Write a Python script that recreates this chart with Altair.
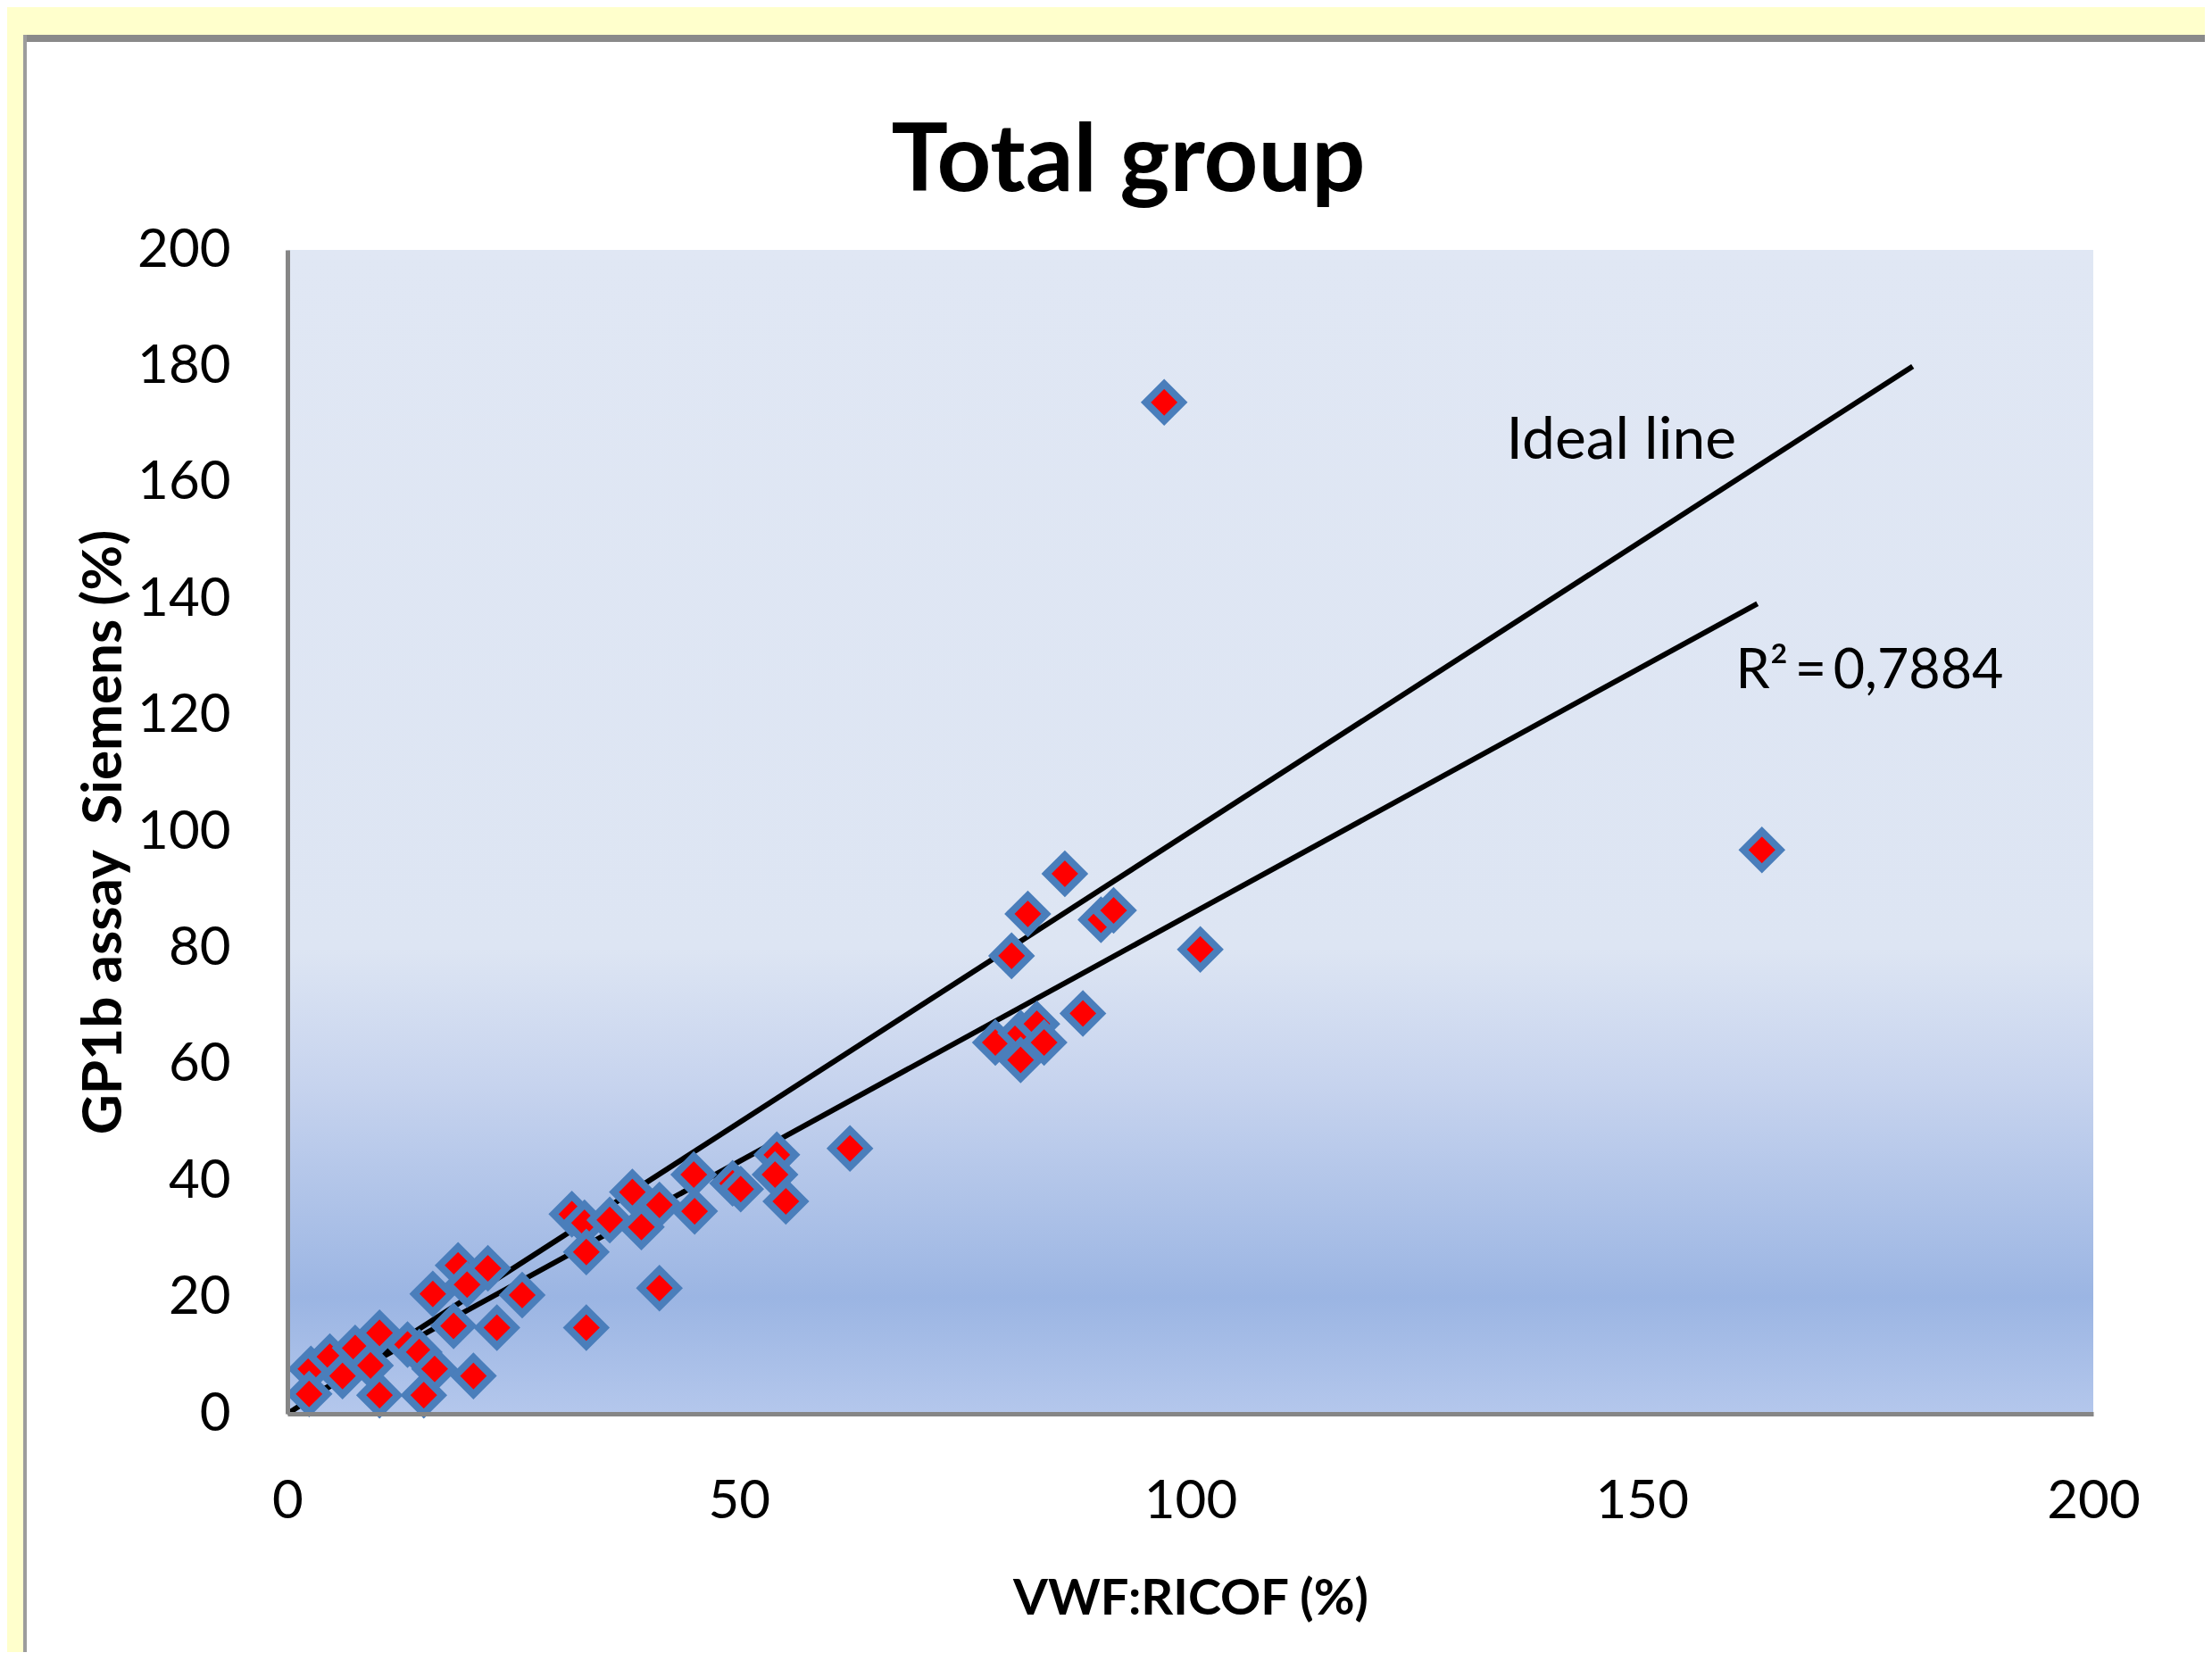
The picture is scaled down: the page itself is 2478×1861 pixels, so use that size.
import altair as alt
import pandas as pd

# ---- data ----
vwf = [2.6, 2.4, 4.7, 6.1, 7.5, 9.2, 10.2, 10.2, 13.3, 14.6, 16.3, 15.1, 20.6,
       16.1, 18.9, 19.9, 22.2, 18.4, 23.2, 26.0, 33.1, 31.5, 32.9, 33.1, 35.7,
       38.2, 39.2, 41.2, 41.2, 45.0, 45.1, 49.3, 50.2, 54.2, 54.0, 55.2, 62.3,
       78.4, 81.2, 83.0, 83.8, 81.2, 80.2, 82.0, 86.1, 88.1, 90.1, 91.5, 101.1,
       97.1, 163.3]
gp1b = [7.7, 3.4, 9.8, 6.5, 11.3, 8.3, 13.9, 3.2, 11.9, 10.6, 7.7, 3.2, 6.5,
        20.6, 25.5, 22.2, 25.0, 15.1, 14.8, 20.4, 14.8, 34.3, 32.8, 27.8, 33.3,
        38.1, 32.1, 35.9, 21.6, 41.1, 34.8, 39.6, 38.6, 44.5, 41.1, 36.5, 45.6,
        63.8, 65.4, 67.0, 63.8, 60.8, 78.7, 85.9, 92.8, 68.8, 84.9, 86.5, 79.8,
        173.8, 96.9]

ideal_x = [0, 180]
ideal_y = [0, 180]
trend_x = [2.2, 162.8]
trend_y = [2.7, 139.2]

labels = ["Ideal line", "R\u00b2\u2009=\u20090,7884"]
label_x = [135.0, 160.4]
label_y = [164.1, 124.7]
label_size = [66, 61]

x_ticks = [0, 50, 100, 150, 200]
y_ticks = [0, 20, 40, 60, 80, 100, 120, 140, 160, 180, 200]

TITLE = "Total group"
X_TITLE = "VWF:RICOF (%)"
Y_TITLE = "GP1b assay\u00a0 Siemens (%)"

# ---- layout ----
W, H = 2023, 1304
FONT = "Lato"

points = pd.DataFrame({"x": vwf, "y": gp1b})
lines = pd.DataFrame({
    "x": ideal_x + trend_x,
    "y": ideal_y + trend_y,
    "line": ["ideal"] * len(ideal_x) + ["trend"] * len(trend_x),
})
notes = pd.DataFrame({"x": label_x, "y": label_y, "label": labels, "size": label_size})
plot_bg = pd.DataFrame({"x": [x_ticks[0]], "x2": [x_ticks[-1]],
                        "y": [y_ticks[0]], "y2": [y_ticks[-1]]})
one = pd.DataFrame({"a": [0]})

xs = alt.Scale(domain=[0, 200], nice=False, zero=False)
ys = alt.Scale(domain=[0, 200], nice=False, zero=False)

x_axis = alt.Axis(values=x_ticks, title=X_TITLE, grid=False, ticks=False, tickSize=0,
                  domainColor="#868686", domainWidth=5, labelFlush=False,
                  labelFont=FONT, labelFontSize=60, labelColor="black", labelPadding=69,
                  titleFont=FONT, titleFontSize=56, titleFontWeight="bold",
                  titleColor="black", titleBaseline="alphabetic", titleX=W / 2,
                  titleY=224, zindex=1)
y_axis = alt.Axis(values=y_ticks, title=Y_TITLE, grid=False, ticks=False, tickSize=0,
                  domainColor="#868686", domainWidth=5, labelFlush=False,
                  labelFont=FONT, labelFontSize=60, labelColor="black", labelPadding=64,
                  titleFont=FONT, titleFontSize=62, titleFontWeight="bold",
                  titleColor="black", titleBaseline="alphabetic", titleAngle=270,
                  titleX=-187, titleY=H / 2, zindex=1)

# pale yellow page strips and grey border of the white chart panel
top_strip = alt.Chart(one).mark_rect(color="#FFFFCC").encode(
    x=alt.value(-400), x2=alt.value(W + 400), y=alt.value(-400), y2=alt.value(-241))
left_strip = alt.Chart(one).mark_rect(color="#FFFFCC").encode(
    x=alt.value(-400), x2=alt.value(-296), y=alt.value(-400), y2=alt.value(H + 400))
top_border = alt.Chart(one).mark_rect(color="#8A8A8A").encode(
    x=alt.value(-296), x2=alt.value(W + 400), y=alt.value(-241), y2=alt.value(-233))
left_border = alt.Chart(one).mark_rect(color="#9C9C9C").encode(
    x=alt.value(-296), x2=alt.value(-292), y=alt.value(-241), y2=alt.value(H + 400))

gradient = alt.LinearGradient(
    gradient="linear", x1=0, x2=0, y1=0, y2=1,
    stops=[
        alt.GradientStop(offset=0.0, color="#E0E7F4"),
        alt.GradientStop(offset=0.60, color="#DDE5F3"),
        alt.GradientStop(offset=0.72, color="#C6D3EE"),
        alt.GradientStop(offset=0.90, color="#9BB5E3"),
        alt.GradientStop(offset=1.0, color="#B4C7EC"),
    ])

plot_area = alt.Chart(plot_bg).mark_rect(color=gradient).encode(
    x=alt.X("x:Q", scale=xs, axis=x_axis),
    x2="x2:Q",
    y=alt.Y("y:Q", scale=ys, axis=y_axis),
    y2="y2:Q",
)

line_layer = alt.Chart(lines).mark_line(color="black", strokeWidth=6).encode(
    x=alt.X("x:Q", scale=xs, axis=x_axis),
    y=alt.Y("y:Q", scale=ys, axis=y_axis),
    detail="line:N",
)

point_layer = alt.Chart(points).mark_point(
    shape="diamond", filled=True, fill="#FF0000", stroke="#4A7EBB",
    strokeWidth=8, size=1700, opacity=1, fillOpacity=1, strokeOpacity=1,
).encode(
    x=alt.X("x:Q", scale=xs, axis=x_axis),
    y=alt.Y("y:Q", scale=ys, axis=y_axis),
)

note_layer = alt.Chart(notes).mark_text(
    align="left", baseline="alphabetic", font=FONT, color="black",
).encode(
    x=alt.X("x:Q", scale=xs, axis=x_axis),
    y=alt.Y("y:Q", scale=ys, axis=y_axis),
    text="label:N",
    size=alt.Size("size:Q", scale=None, legend=None),
)

title_layer = alt.Chart(one).mark_text(
    align="center", baseline="alphabetic", font=FONT, fontSize=106,
    fontWeight="bold", color="black",
).encode(x=alt.value(942), y=alt.value(-66), text=alt.value(TITLE))

chart = alt.layer(
    top_strip, left_strip, top_border, left_border, plot_area, line_layer,
    point_layer, note_layer, title_layer,
).properties(
    width=W, height=H,
    autosize=alt.AutoSizeParams(type="none"),
    padding={"left": 314, "top": 272, "right": 125, "bottom": 267},
    background="white",
).configure_view(stroke=None)

chart.save("out.html", embed_options={"renderer": "svg", "actions": False})
